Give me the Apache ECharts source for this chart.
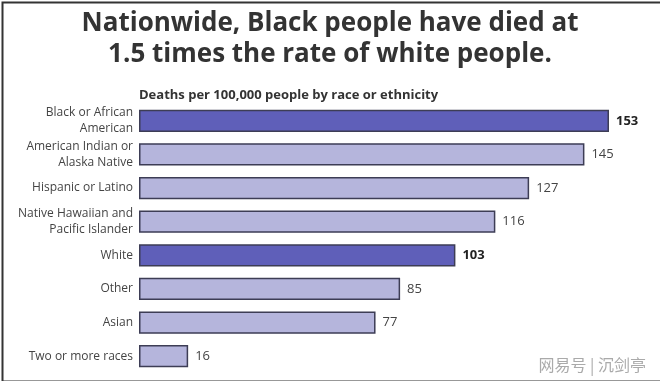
<!DOCTYPE html>
<html>
<head>
<meta charset="utf-8">
<script src="https://cdn.jsdelivr.net/npm/echarts@6/dist/echarts.min.js"></script>
<style>
html,body{margin:0;padding:0;background:#fff;}
#c{width:660px;height:381px;}
</style>
</head>
<body>
<div id="c"></div>
<script>
const categories = ["Black or African\nAmerican","American Indian or\nAlaska Native","Hispanic or Latino","Native Hawaiian and\nPacific Islander","White","Other","Asian","Two or more races"];
const values = [153,145,127,116,103,85,77,16];
const highlighted = [true,false,false,false,true,false,false,false];

const DARK = '#5f5fb9';
const LIGHT = '#b5b5dc';
const FONT = '"Open Sans", "Noto Sans", sans-serif';

const data = values.map((v,i)=>({
  value: v,
  itemStyle: { color: highlighted[i] ? DARK : LIGHT },
  label: { fontWeight: highlighted[i] ? 'bold' : 'normal', color: highlighted[i] ? '#222' : '#444' }
}));

const chart = echarts.init(document.getElementById('c'));
chart.setOption({
  animation: false,
  title: {
    text: 'Nationwide, Black people have died at\n1.5 times the rate of white people.',
    left: 'center', top: 3,
    textStyle: { fontFamily: FONT, fontSize: 26, fontWeight: 'bold', color: '#333', lineHeight: 31 }
  },
  graphic: [
    { type: 'text', left: 139, top: 89, style: { text: 'Deaths per 100,000 people by race or ethnicity', font: 'bold 13px "Open Sans", sans-serif', fill: '#333' } },
    { type: 'text', right: 14, bottom: 8, style: { text: '网易号 | 沉剑亭', font: '16px "Noto Sans CJK SC", sans-serif', fill: '#aaa' } },
    { type: 'rect', left: 0, top: 0, shape: { x: 0.5, y: 0.5, width: 659, height: 379 }, style: { fill: 'none', stroke: '#333', lineWidth: 2 }, z: 100 }
  ],
  grid: { left: 139, top: 104, width: 470, height: 269, containLabel: false },
  xAxis: { type: 'value', min: 0, max: 153, show: false },
  yAxis: {
    type: 'category', data: categories, inverse: true,
    axisLine: { show: false }, axisTick: { show: false },
    axisLabel: { fontFamily: FONT, fontSize: 12, color: '#444', lineHeight: 16, margin: 6, align: 'right' }
  },
  series: [{
    type: 'bar', data: data, barWidth: '66%',
    itemStyle: { borderColor: '#3d3d55', borderWidth: 1.5 },
    label: { show: true, position: 'right', distance: 7, fontFamily: FONT, fontSize: 13 }
  }]
});
</script>
</body>
</html>
